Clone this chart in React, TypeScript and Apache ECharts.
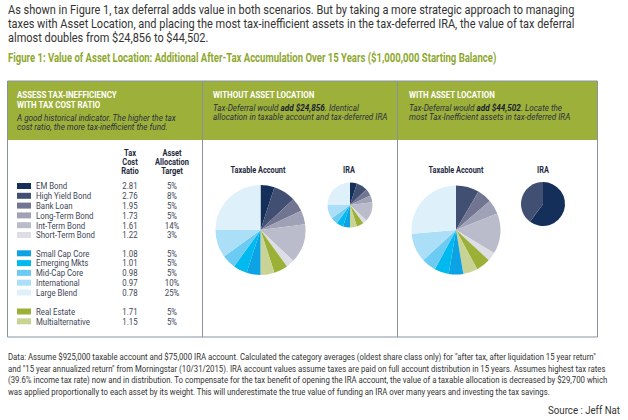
import React, { useEffect, useRef } from "react";
import * as echarts from "echarts";

// ---------- data ----------
const introLines = [
  "As shown in Figure 1, tax deferral adds value in both scenarios. But by taking a more strategic approach to managing",
  "taxes with Asset Location, and placing the most tax-inefficient assets in the tax-deferred IRA, the value of tax deferral",
  "almost doubles from $24,856 to $44,502.",
];
const figureTitle =
  "Figure 1: Value of Asset Location: Additional After-Tax Accumulation Over 15 Years ($1,000,000 Starting Balance)";

const assetNames = [
  "EM Bond",
  "High Yield Bond",
  "Bank Loan",
  "Long-Term Bond",
  "Int-Term Bond",
  "Short-Term Bond",
  "Small Cap Core",
  "Emerging Mkts",
  "Mid-Cap Core",
  "International",
  "Large Blend",
  "Real Estate",
  "Multialternative",
];
const taxCostRatio = ["2.81", "2.76", "1.95", "1.73", "1.61", "1.22", "1.08", "1.01", "0.98", "0.97", "0.78", "1.71", "1.15"];
const allocationTarget = ["5%", "8%", "5%", "5%", "14%", "3%", "5%", "5%", "5%", "10%", "25%", "5%", "5%"];
const assetGroup = [0, 0, 0, 0, 0, 0, 1, 1, 1, 1, 1, 2, 2];
const assetColors = [
  "#14305a",
  "#414f72",
  "#717591",
  "#9fa1b6",
  "#babccc",
  "#dcdde5",
  "#0ca2e4",
  "#00b9ef",
  "#6ccbf3",
  "#abdff7",
  "#def1fb",
  "#9bb036",
  "#c9d396",
];

// pie slice order (clockwise from 12 o'clock)
const pieOrder = [
  "EM Bond",
  "High Yield Bond",
  "Bank Loan",
  "Long-Term Bond",
  "Int-Term Bond",
  "Short-Term Bond",
  "Real Estate",
  "Multialternative",
  "Small Cap Core",
  "Emerging Mkts",
  "Mid-Cap Core",
  "International",
  "Large Blend",
];
const withoutTaxable = [5, 8, 5, 5, 14, 3, 5, 5, 5, 5, 5, 10, 25];
const withoutIra = [5, 8, 5, 5, 14, 3, 5, 5, 5, 5, 5, 10, 25];
const withTaxable = [0, 8, 5, 5, 14, 3, 5, 5, 5, 5, 5, 10, 25];
const withIra = [60, 40, 0, 0, 0, 0, 0, 0, 0, 0, 0, 0, 0];

const footerLines = [
  'Data: Assume $925,000 taxable account and $75,000 IRA account. Calculated the category averages (oldest share class only) for "after tax, after liquidation 15 year return"',
  'and "15 year annualized return" from Morningstar (10/31/2015). IRA account values assume taxes are paid on full account distribution in 15 years. Assumes highest tax rates',
  "(39.6% income tax rate) now and in distribution. To compensate for the tax benefit of opening the IRA account, the value of a taxable allocation is decreased by $29,700 which",
  "was applied proportionally to each asset by its weight. This will underestimate the true value of funding an IRA over many years and investing the tax savings.",
];
const sourceText = "Source : Jeff Nat";

// ---------- styles ----------
const FAM = "Roboto";
const GREEN = "#9db03a";
const BORDER = "#8793a2";
const NAVY = "#1e2a40";
const TEXT = "#3a3a3a";

let measureCtx: CanvasRenderingContext2D | null = null;
function measure(text: string, size: number, weight = "normal", style = "normal") {
  if (!measureCtx) measureCtx = document.createElement("canvas").getContext("2d");
  measureCtx!.font = `${style} ${weight} ${size}px ${FAM}`;
  return measureCtx!.measureText(text).width;
}
function fitScale(text: string, target: number, size: number, weight = "normal", style = "normal") {
  const w = measure(text, size, weight, style);
  return w > 0 ? target / w : 0.82;
}

function colorOf(name: string) {
  return assetColors[assetNames.indexOf(name)];
}

function pieData(values: number[]) {
  return pieOrder
    .map((n, i) => ({ name: n, value: values[i], itemStyle: { color: colorOf(n) } }))
    .filter((d) => d.value > 0);
}

function pieSeries(values: number[], cx: number, cy: number, r: number) {
  return {
    type: "pie",
    center: [cx, cy],
    radius: r,
    startAngle: 90,
    clockwise: true,
    silent: true,
    label: { show: false },
    labelLine: { show: false },
    itemStyle: { borderWidth: 0 },
    emphasis: { disabled: true },
    data: pieData(values),
  };
}

function txt(x: number, y: number, text: string, style: any = {}, sx = 1) {
  return {
    type: "text",
    x,
    y,
    scaleX: sx,
    silent: true,
    style: {
      text,
      fontFamily: FAM,
      fontSize: 9,
      fill: TEXT,
      textVerticalAlign: "middle",
      ...style,
    },
  };
}

export default function App() {
  const ref = useRef<HTMLDivElement>(null);

  useEffect(() => {
    document.body.style.margin = "0";
    const chart = echarts.init(ref.current!, undefined, { renderer: "svg" });

    const g: any[] = [];

    // intro paragraph
    const sIntro = fitScale(introLines[0], 567, 12.5);
    introLines.forEach((l, i) => g.push(txt(8, 10 + i * 14, l, { fontSize: 12.5, fill: "#333" }, sIntro)));
    const sTitle = fitScale(figureTitle, 489, 12, "bold");
    g.push(txt(8, 58, figureTitle, { fontSize: 12, fontWeight: "bold", fill: "#8ea82f" }, sTitle));

    // box
    const top = 81;
    const bottom = 337;
    const left = 7.5;
    const right = 597.5;
    const div1 = 202.5;
    const div2 = 397.5;
    g.push({ type: "rect", shape: { x: left, y: top, width: right - left, height: 140 - top }, style: { fill: GREEN }, silent: true });
    g.push({ type: "rect", shape: { x: left, y: top, width: right - left, height: bottom - top }, style: { fill: "none", stroke: BORDER, lineWidth: 1 }, silent: true });
    [div1, div2].forEach((x) =>
      g.push({ type: "line", shape: { x1: x, y1: top, x2: x, y2: bottom }, style: { stroke: BORDER, lineWidth: 1 }, silent: true })
    );

    // header band texts
    const hTitle = { fontSize: 9.5, fontWeight: "bold", fill: "#ffffff" };
    const hItal = { fontSize: 9, fontStyle: "italic", fill: "#2b3140" };
    const sHT = fitScale("ASSESS TAX-INEFFICIENCY", 100, 9.5, "bold");
    const sHI = fitScale("A good historical indicator. The higher the tax", 159, 9, "normal", "italic");
    g.push(txt(17, 95, "ASSESS TAX-INEFFICIENCY", hTitle, sHT));
    g.push(txt(17, 105, "WITH TAX COST RATIO", hTitle, sHT));
    g.push(txt(17, 118, "A good historical indicator. The higher the tax", hItal, sHI));
    g.push(txt(17, 127, "cost ratio, the more tax-inefficient the fund.", hItal, sHI));

    const rich = { b: { fontFamily: FAM, fontSize: 9, fontStyle: "italic", fontWeight: "bold", fill: "#1a2233" } };
    g.push(txt(213, 95, "WITHOUT ASSET LOCATION", hTitle, sHT));
    g.push(txt(213, 108, "Tax-Deferral would {b|add $24,856}. Identical", { ...hItal, rich }, sHI));
    g.push(txt(213, 117, "allocation in taxable account and tax-deferred IRA", hItal, sHI));

    g.push(txt(409, 95, "WITH ASSET LOCATION", hTitle, sHT));
    g.push(txt(409, 108, "Tax-Deferral would {b|add $44,502}. Locate the", { ...hItal, rich }, sHI));
    g.push(txt(409, 117, "most Tax-Inefficient assets in tax-deferred IRA", hItal, sHI));

    // table header
    const th = { fontSize: 9.5, fontWeight: "bold", fill: NAVY, textAlign: "center" };
    const sTh = fitScale("Allocation", 34, 9.5, "bold");
    ["Tax", "Cost", "Ratio"].forEach((s, i) => g.push(txt(130, 153 + i * 8.8, s, th, sTh)));
    ["Asset", "Allocation", "Target"].forEach((s, i) => g.push(txt(172, 153 + i * 8.8, s, th, sTh)));

    // table rows
    const sRow = fitScale("Short-Term Bond", 59, 9.8);
    const groupStart = [186, 253.3, 311.5];
    const rowH = 9.8;
    const idxInGroup: number[] = [];
    const counter = [0, 0, 0];
    assetGroup.forEach((gr) => {
      idxInGroup.push(counter[gr]);
      counter[gr]++;
    });
    const rowStyle = { fontSize: 9.8, fill: "#3d4656" };
    assetNames.forEach((n, i) => {
      const y = groupStart[assetGroup[i]] + idxInGroup[i] * rowH;
      g.push({ type: "rect", shape: { x: 17, y: y - 3, width: 14, height: 6 }, style: { fill: assetColors[i] }, silent: true });
      g.push(txt(36, y, n, rowStyle, sRow));
      g.push(txt(130, y, taxCostRatio[i], { ...rowStyle, textAlign: "center" }, sRow));
      g.push(txt(172, y, allocationTarget[i], { ...rowStyle, textAlign: "center" }, sRow));
    });

    // pie titles
    const pt = { fontSize: 9.5, fontWeight: "bold", fill: NAVY, textAlign: "center" };
    const sPt = fitScale("Taxable Account", 55, 9.5, "bold");
    g.push(txt(258, 170, "Taxable Account", pt, sPt));
    g.push(txt(349, 170, "IRA", pt, sPt));
    g.push(txt(456, 170, "Taxable Account", pt, sPt));
    g.push(txt(543, 170, "IRA", pt, sPt));

    // footer
    const sFoot = fitScale(footerLines[0], 589, 9);
    footerLines.forEach((l, i) => g.push(txt(8, 357 + i * 11.5, l, { fontSize: 9, fill: "#333" }, sFoot)));
    const sSrc = fitScale(sourceText, 72, 10.5);
    g.push(txt(620, 410, sourceText, { fontSize: 10.5, fill: "#333", textAlign: "right" }, sSrc));

    chart.setOption({
      animation: false,
      backgroundColor: "#ffffff",
      graphic: { elements: g },
      series: [
        pieSeries(withoutTaxable, 260.5, 230, 45),
        pieSeries(withoutIra, 350, 205, 22.5),
        pieSeries(withTaxable, 456, 230, 44.5),
        pieSeries(withIra, 543, 204, 22),
      ],
    });

    return () => chart.dispose();
  }, []);

  return <div ref={ref} style={{ width: 628, height: 420 }} />;
}
